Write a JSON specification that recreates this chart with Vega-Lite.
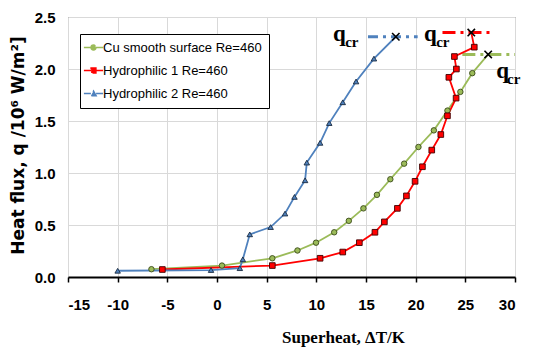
{
  "$schema": "https://vega.github.io/schema/vega-lite/v6.json",
  "width": 447,
  "height": 260,
  "autosize": {"type": "none"},
  "padding": {"left": 68, "top": 17, "right": 18, "bottom": 73},
  "background": "white",
  "config": {
    "view": {"stroke": "#595959", "strokeWidth": 1},
    "axis": {
      "gridColor": "#d9d9d9",
      "gridWidth": 1,
      "labelColor": "#000",
      "labelFont": "Liberation Sans",
      "labelFontWeight": "bold",
      "labelFontSize": 15,
      "titleColor": "#000"
    },
    "legend": {
      "orient": "none",
      "legendX": 12,
      "legendY": 17,
      "strokeColor": "#000",
      "fillColor": "#fff",
      "padding": 7,
      "rowPadding": 9,
      "labelFont": "Liberation Sans",
      "labelFontSize": 13,
      "labelColor": "#000",
      "labelLimit": 400,
      "labelOffset": 3,
      "symbolOffset": 0,
      "symbolSize": 64,
      "symbolOpacity": 1,
      "symbolStrokeWidth": 1.5
    }
  },
  "datasets": {
    "pts": [
      {"s": "Cu smooth surface Re=460", "i": 1, "x": -6.6, "y": 0.075, "crit": false},
      {"s": "Cu smooth surface Re=460", "i": 2, "x": 0.5, "y": 0.11, "crit": false},
      {"s": "Cu smooth surface Re=460", "i": 3, "x": 5.57, "y": 0.18, "crit": false},
      {"s": "Cu smooth surface Re=460", "i": 4, "x": 8.1, "y": 0.255, "crit": false},
      {"s": "Cu smooth surface Re=460", "i": 5, "x": 9.97, "y": 0.33, "crit": false},
      {"s": "Cu smooth surface Re=460", "i": 6, "x": 11.8, "y": 0.43, "crit": false},
      {"s": "Cu smooth surface Re=460", "i": 7, "x": 13.27, "y": 0.54, "crit": false},
      {"s": "Cu smooth surface Re=460", "i": 8, "x": 14.74, "y": 0.66, "crit": false},
      {"s": "Cu smooth surface Re=460", "i": 9, "x": 16.1, "y": 0.79, "crit": false},
      {"s": "Cu smooth surface Re=460", "i": 10, "x": 17.45, "y": 0.94, "crit": false},
      {"s": "Cu smooth surface Re=460", "i": 11, "x": 18.84, "y": 1.09, "crit": false},
      {"s": "Cu smooth surface Re=460", "i": 12, "x": 20.28, "y": 1.25, "crit": false},
      {"s": "Cu smooth surface Re=460", "i": 13, "x": 21.83, "y": 1.41, "crit": false},
      {"s": "Cu smooth surface Re=460", "i": 14, "x": 23.2, "y": 1.6, "crit": false},
      {"s": "Cu smooth surface Re=460", "i": 15, "x": 24.5, "y": 1.78, "crit": false},
      {"s": "Cu smooth surface Re=460", "i": 16, "x": 25.7, "y": 1.96, "crit": false},
      {"s": "Cu smooth surface Re=460", "i": 17, "x": 27.3, "y": 2.14, "crit": true},
      {"s": "Hydrophilic 1 Re=460", "i": 1, "x": -5.5, "y": 0.072, "crit": false},
      {"s": "Hydrophilic 1 Re=460", "i": 2, "x": 5.57, "y": 0.11, "crit": false},
      {"s": "Hydrophilic 1 Re=460", "i": 3, "x": 10.38, "y": 0.18, "crit": false},
      {"s": "Hydrophilic 1 Re=460", "i": 4, "x": 12.66, "y": 0.24, "crit": false},
      {"s": "Hydrophilic 1 Re=460", "i": 5, "x": 14.33, "y": 0.33, "crit": false},
      {"s": "Hydrophilic 1 Re=460", "i": 6, "x": 15.9, "y": 0.43, "crit": false},
      {"s": "Hydrophilic 1 Re=460", "i": 7, "x": 16.85, "y": 0.53, "crit": false},
      {"s": "Hydrophilic 1 Re=460", "i": 8, "x": 18.16, "y": 0.66, "crit": false},
      {"s": "Hydrophilic 1 Re=460", "i": 9, "x": 19.07, "y": 0.78, "crit": false},
      {"s": "Hydrophilic 1 Re=460", "i": 10, "x": 19.94, "y": 0.92, "crit": false},
      {"s": "Hydrophilic 1 Re=460", "i": 11, "x": 20.68, "y": 1.06, "crit": false},
      {"s": "Hydrophilic 1 Re=460", "i": 12, "x": 21.62, "y": 1.22, "crit": false},
      {"s": "Hydrophilic 1 Re=460", "i": 13, "x": 22.53, "y": 1.37, "crit": false},
      {"s": "Hydrophilic 1 Re=460", "i": 14, "x": 23.2, "y": 1.55, "crit": false},
      {"s": "Hydrophilic 1 Re=460", "i": 15, "x": 24.07, "y": 1.72, "crit": false},
      {"s": "Hydrophilic 1 Re=460", "i": 16, "x": 23.34, "y": 1.92, "crit": false},
      {"s": "Hydrophilic 1 Re=460", "i": 17, "x": 24.1, "y": 2.0, "crit": false},
      {"s": "Hydrophilic 1 Re=460", "i": 18, "x": 23.9, "y": 2.12, "crit": false},
      {"s": "Hydrophilic 1 Re=460", "i": 19, "x": 25.9, "y": 2.21, "crit": false},
      {"s": "Hydrophilic 1 Re=460", "i": 20, "x": 25.6, "y": 2.35, "crit": true},
      {"s": "Hydrophilic 2 Re=460", "i": 1, "x": -10.0, "y": 0.06, "crit": false},
      {"s": "Hydrophilic 2 Re=460", "i": 2, "x": -0.6, "y": 0.067, "crit": false},
      {"s": "Hydrophilic 2 Re=460", "i": 3, "x": 2.3, "y": 0.085, "crit": false},
      {"s": "Hydrophilic 2 Re=460", "i": 4, "x": 2.6, "y": 0.17, "crit": false},
      {"s": "Hydrophilic 2 Re=460", "i": 5, "x": 3.3, "y": 0.41, "crit": false},
      {"s": "Hydrophilic 2 Re=460", "i": 6, "x": 5.4, "y": 0.48, "crit": false},
      {"s": "Hydrophilic 2 Re=460", "i": 7, "x": 6.85, "y": 0.61, "crit": false},
      {"s": "Hydrophilic 2 Re=460", "i": 8, "x": 7.8, "y": 0.77, "crit": false},
      {"s": "Hydrophilic 2 Re=460", "i": 9, "x": 8.87, "y": 0.93, "crit": false},
      {"s": "Hydrophilic 2 Re=460", "i": 10, "x": 9.04, "y": 1.1, "crit": false},
      {"s": "Hydrophilic 2 Re=460", "i": 11, "x": 10.38, "y": 1.29, "crit": false},
      {"s": "Hydrophilic 2 Re=460", "i": 12, "x": 11.3, "y": 1.48, "crit": false},
      {"s": "Hydrophilic 2 Re=460", "i": 13, "x": 12.66, "y": 1.68, "crit": false},
      {"s": "Hydrophilic 2 Re=460", "i": 14, "x": 14.0, "y": 1.88, "crit": false},
      {"s": "Hydrophilic 2 Re=460", "i": 15, "x": 15.8, "y": 2.1, "crit": false},
      {"s": "Hydrophilic 2 Re=460", "i": 16, "x": 18.0, "y": 2.31, "crit": true}
    ],
    "rules": [
      {"s": "Cu smooth surface Re=460", "x1": 24.7, "x2": 30.0, "y": 2.14},
      {"s": "Hydrophilic 1 Re=460", "x1": 22.7, "x2": 27.7, "y": 2.35},
      {"s": "Hydrophilic 2 Re=460", "x1": 15.2, "x2": 20.2, "y": 2.31}
    ],
    "labs": [
      {"s": "Hydrophilic 2 Re=460", "t": "q", "x": 11.69, "y": 2.27},
      {"s": "Hydrophilic 1 Re=460", "t": "q", "x": 20.85, "y": 2.27},
      {"s": "Cu smooth surface Re=460", "t": "q", "x": 28.1, "y": 1.913},
      {"s": "Hydrophilic 2 Re=460", "t": "cr", "x": 12.9, "y": 2.21},
      {"s": "Hydrophilic 1 Re=460", "t": "cr", "x": 22.06, "y": 2.21},
      {"s": "Cu smooth surface Re=460", "t": "cr", "x": 29.2, "y": 1.856}
    ]
  },
  "layer": [
    {
      "data": {"name": "rules"},
      "mark": {"type": "rule", "strokeWidth": 3},
      "encoding": {
        "x": {"field": "x1", "type": "quantitative", "scale": {"domain": [-15, 30], "nice": false, "zero": false},
          "axis": {
            "values": [-15, -10, -5, 0, 5, 10, 15, 20, 25, 30],
            "labelExpr": "datum.value < 0 ? '-' + abs(datum.value) : '' + datum.value",
            "grid": true,
            "domainColor": "#000",
            "domainWidth": 2,
            "tickColor": "#000",
            "tickWidth": 1.5,
            "tickSize": 5,
            "labelPadding": 15,
            "title": "Superheat, ΔT/K",
            "titleFont": "Liberation Serif",
            "titleFontWeight": "bold",
            "titleFontSize": 17,
            "titleX": 275,
            "titleY": 60,
            "titleBaseline": "middle"
          }},
        "x2": {"field": "x2"},
        "y": {"field": "y", "type": "quantitative", "scale": {"domain": [0, 2.5], "nice": false},
          "axis": {
            "values": [0, 0.5, 1, 1.5, 2, 2.5],
            "format": ".1f",
            "grid": true,
            "domain": false,
            "ticks": false,
            "labelPadding": 13,
            "title": "Heat flux, q /10⁶ W/m²]",
            "titleFont": "DejaVu Sans",
            "titleFontWeight": "bold",
            "titleFontSize": 17,
            "titleX": -50,
            "titleY": 128,
            "titleAlign": "center",
            "titleBaseline": "middle",
            "titleAngle": -90
          }},
        "color": {"field": "s", "type": "nominal",
          "scale": {"domain": ["Cu smooth surface Re=460", "Hydrophilic 1 Re=460", "Hydrophilic 2 Re=460"],
                    "range": ["#9BBB59", "#FF0000", "#4F81BD"]},
          "legend": {"title": null}},
        "strokeDash": {"field": "s", "type": "nominal", "legend": null,
          "scale": {"domain": ["Cu smooth surface Re=460", "Hydrophilic 1 Re=460", "Hydrophilic 2 Re=460"],
                    "range": [[13, 5, 3, 5], [13, 5, 3, 5], [10, 5, 3, 5]]}}
      }
    },
    {
      "data": {"name": "pts"},
      "mark": {"type": "line", "strokeWidth": 1.8},
      "encoding": {
        "x": {"field": "x", "type": "quantitative"},
        "y": {"field": "y", "type": "quantitative"},
        "color": {"field": "s", "type": "nominal"},
        "order": {"field": "i", "type": "quantitative"}
      }
    },
    {
      "data": {"name": "pts"},
      "transform": [{"filter": "!datum.crit"}],
      "mark": {"type": "point", "filled": true, "opacity": 0, "size": 30},
      "encoding": {
        "x": {"field": "x", "type": "quantitative"},
        "y": {"field": "y", "type": "quantitative"},
        "color": {"field": "s", "type": "nominal"},
        "stroke": {"field": "s", "type": "nominal",
          "scale": {"domain": ["Cu smooth surface Re=460", "Hydrophilic 1 Re=460", "Hydrophilic 2 Re=460"],
                    "range": ["#9BBB59", "#FF0000", "#4F81BD"]}},
        "shape": {"field": "s", "type": "nominal",
          "scale": {"domain": ["Cu smooth surface Re=460", "Hydrophilic 1 Re=460", "Hydrophilic 2 Re=460"],
                    "range": [
                      "M-2.4,0H-0.6M0.6,0H2.4M0.6,0A0.6,0.6,0,1,1,-0.6,0A0.6,0.6,0,1,1,0.6,0",
                      "M-2.4,0H-0.6M0.6,0H2.4M-0.6,-0.6H0.6V0.6H-0.6Z",
                      "M-2.4,0H-0.65M0.65,0H2.4M0,-0.6L0.65,0.55H-0.65Z"]}}
      }
    },
    {
      "data": {"name": "pts"},
      "transform": [{"filter": "datum.crit"}],
      "mark": {"type": "point", "shape": "M-1,-1L1,1M-1,1L1,-1", "stroke": "#000", "strokeWidth": 1.6, "size": 55, "opacity": 1},
      "encoding": {
        "x": {"field": "x", "type": "quantitative"},
        "y": {"field": "y", "type": "quantitative"}
      }
    },
    {
      "data": {"name": "pts"},
      "transform": [{"filter": "!datum.crit && datum.s === 'Cu smooth surface Re=460'"}],
      "mark": {"type": "point", "shape": "circle", "filled": true, "fill": "#9BBB59", "stroke": "#3a4a1a", "strokeWidth": 0.9, "size": 30, "opacity": 1},
      "encoding": {
        "x": {"field": "x", "type": "quantitative"},
        "y": {"field": "y", "type": "quantitative"}
      }
    },
    {
      "data": {"name": "pts"},
      "transform": [{"filter": "!datum.crit && datum.s === 'Hydrophilic 1 Re=460'"}],
      "mark": {"type": "point", "shape": "square", "filled": true, "fill": "#FF0000", "stroke": "#400000", "strokeWidth": 0.9, "size": 32, "opacity": 1},
      "encoding": {
        "x": {"field": "x", "type": "quantitative"},
        "y": {"field": "y", "type": "quantitative"}
      }
    },
    {
      "data": {"name": "pts"},
      "transform": [{"filter": "!datum.crit && datum.s === 'Hydrophilic 2 Re=460'"}],
      "mark": {"type": "point", "shape": "triangle-up", "filled": true, "fill": "#4F81BD", "stroke": "#1a2a40", "strokeWidth": 0.9, "size": 30, "opacity": 1},
      "encoding": {
        "x": {"field": "x", "type": "quantitative"},
        "y": {"field": "y", "type": "quantitative"}
      }
    },
    {
      "data": {"name": "labs"},
      "transform": [{"filter": "datum.t === 'q'"}],
      "mark": {"type": "text", "font": "Liberation Serif", "fontWeight": "bold", "fontSize": 23, "align": "left", "baseline": "alphabetic", "color": "#000"},
      "encoding": {
        "x": {"field": "x", "type": "quantitative"},
        "y": {"field": "y", "type": "quantitative"},
        "text": {"field": "t"}
      }
    },
    {
      "data": {"name": "labs"},
      "transform": [{"filter": "datum.t === 'cr'"}],
      "mark": {"type": "text", "font": "Liberation Serif", "fontWeight": "bold", "fontSize": 15, "align": "left", "baseline": "alphabetic", "color": "#000"},
      "encoding": {
        "x": {"field": "x", "type": "quantitative"},
        "y": {"field": "y", "type": "quantitative"},
        "text": {"field": "t"}
      }
    }
  ]
}
